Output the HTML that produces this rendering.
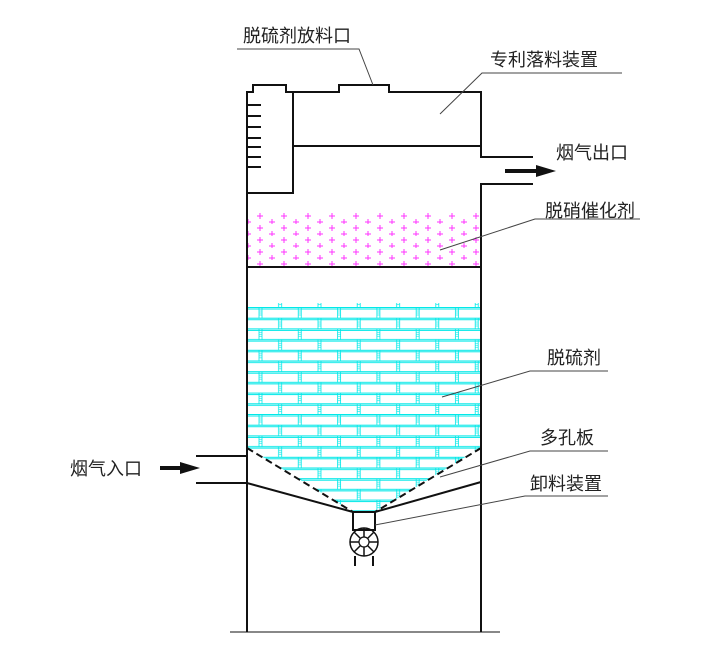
<!DOCTYPE html>
<html><head><meta charset="utf-8"><style>
html,body{margin:0;padding:0;background:#fff;}
svg{display:block}
text{font-family:"Liberation Sans","Noto Sans CJK SC",sans-serif;font-size:18px;fill:#222}
</style></head><body>
<svg width="704" height="645" viewBox="0 0 704 645" xmlns="http://www.w3.org/2000/svg">
<defs>
<pattern id="brick" x="247" y="307" width="78.6" height="21.4" patternUnits="userSpaceOnUse">
 <g stroke="#00e8e8" stroke-width="1" fill="none">
  <line x1="0" y1="0.5" x2="78.6" y2="0.5"/><line x1="0" y1="2" x2="78.6" y2="2"/>
  <line x1="0" y1="11.2" x2="78.6" y2="11.2"/><line x1="0" y1="12.7" x2="78.6" y2="12.7"/>
  <g stroke-width="0.8">
   <line x1="12" y1="0" x2="12" y2="11"/><line x1="15" y1="0" x2="15" y2="11"/>
   <line x1="51.3" y1="0" x2="51.3" y2="11"/><line x1="54.3" y1="0" x2="54.3" y2="11"/>
   <line x1="31.6" y1="11" x2="31.6" y2="21.4"/><line x1="34.6" y1="11" x2="34.6" y2="21.4"/>
   <line x1="71" y1="11" x2="71" y2="21.4"/><line x1="74" y1="11" x2="74" y2="21.4"/>
  </g>
  <g stroke-width="0.6">
   <line x1="12" y1="4" x2="15" y2="4"/><line x1="12" y1="6" x2="15" y2="6"/><line x1="12" y1="8" x2="15" y2="8"/>
   <line x1="51.3" y1="4" x2="54.3" y2="4"/><line x1="51.3" y1="6" x2="54.3" y2="6"/><line x1="51.3" y1="8" x2="54.3" y2="8"/>
   <line x1="31.6" y1="15" x2="34.6" y2="15"/><line x1="31.6" y1="17" x2="34.6" y2="17"/><line x1="31.6" y1="19" x2="34.6" y2="19"/>
   <line x1="71" y1="15" x2="74" y2="15"/><line x1="71" y1="17" x2="74" y2="17"/><line x1="71" y1="19" x2="74" y2="19"/>
  </g>
 </g>
</pattern>
<pattern id="plus" x="247" y="212" width="24" height="12" patternUnits="userSpaceOnUse">
 <g stroke="#ff33ff" stroke-width="1">
  <line x1="10" y1="4" x2="16" y2="4"/><line x1="13" y1="1" x2="13" y2="7"/>
  <line x1="-2" y1="10" x2="4" y2="10"/><line x1="1" y1="7" x2="1" y2="13"/>
  <line x1="22" y1="10" x2="28" y2="10"/><line x1="25" y1="7" x2="25" y2="13"/>
 </g>
</pattern>
</defs>
<rect x="248" y="212" width="232" height="54" fill="url(#plus)"/>
<polygon points="248,303 480,303 480,448 375,512 353,512 248,448" fill="url(#brick)"/>

<g stroke="#111" stroke-width="2" fill="none">
 <polyline points="247,632 247,92 253,92 253,85 286,85 286,92 339,92 339,85 389,85 389,92 481,92 481,157 533,157"/>
 <polyline points="533,184 481,184 481,632"/>
 <polyline points="247,193 293,193 293,92"/>
 <line x1="293" y1="146" x2="481" y2="146"/>
 <line x1="247" y1="267" x2="481" y2="267"/>
 <polyline points="196,456 247,456"/>
 <polyline points="196,483 247,483 353,512"/>
 <line x1="375" y1="512" x2="481" y2="482"/>
 <rect x="353" y="512" width="22" height="18"/>
 <line x1="355" y1="556" x2="355" y2="566"/><line x1="373" y1="556" x2="373" y2="566"/>
</g>
<g stroke="#111" stroke-width="1.5" fill="none">
 <circle cx="364" cy="542" r="14"/>
 <line x1="364" y1="528" x2="364" y2="556"/><line x1="350" y1="542" x2="378" y2="542"/>
 <line x1="354" y1="532" x2="374" y2="552"/><line x1="374" y1="532" x2="354" y2="552"/>
</g>
<circle cx="364" cy="542" r="5" fill="#fff" stroke="#111" stroke-width="1.2"/>
<g stroke="#111" stroke-width="2" stroke-dasharray="7,4" fill="none">
 <line x1="247" y1="448" x2="353" y2="512"/>
 <line x1="481" y1="448" x2="375" y2="512"/>
</g>
<g stroke="#111" stroke-width="2">
 <line x1="247" y1="105" x2="261" y2="105"/><line x1="247" y1="116" x2="261" y2="116"/>
 <line x1="247" y1="127" x2="261" y2="127"/><line x1="247" y1="138" x2="261" y2="138"/>
 <line x1="247" y1="147" x2="261" y2="147"/><line x1="247" y1="157" x2="261" y2="157"/>
 <line x1="247" y1="167" x2="261" y2="167"/>
 <line x1="230" y1="632" x2="500" y2="632" stroke-width="1"/>
</g>
<line x1="505" y1="171" x2="538" y2="171" stroke="#111" stroke-width="4"/>
<polygon points="536,165 556,171 536,177" fill="#111"/>
<line x1="160" y1="468" x2="182" y2="468" stroke="#111" stroke-width="4"/>
<polygon points="180,462 200,468 180,474" fill="#111"/>
<g stroke="#444" stroke-width="1" fill="none">
 <polyline points="237,49 359,49 373,85"/>
 <polyline points="622,73 482,73 440,114"/>
 <polyline points="640,219 535,219 440,250"/>
 <polyline points="608,371 530,371 442,397"/>
 <polyline points="608,451 530,451 440,477"/>
 <polyline points="608,496 525,496 375,525"/>
</g>
<text x="243" y="42">脱硫剂放料口</text>
<text x="490" y="66">专利落料装置</text>
<text x="556" y="159">烟气出口</text>
<text x="545" y="217">脱硝催化剂</text>
<text x="547" y="364">脱硫剂</text>
<text x="540" y="444">多孔板</text>
<text x="530" y="490">卸料装置</text>
<text x="70" y="475">烟气入口</text>
</svg>
</body></html>
